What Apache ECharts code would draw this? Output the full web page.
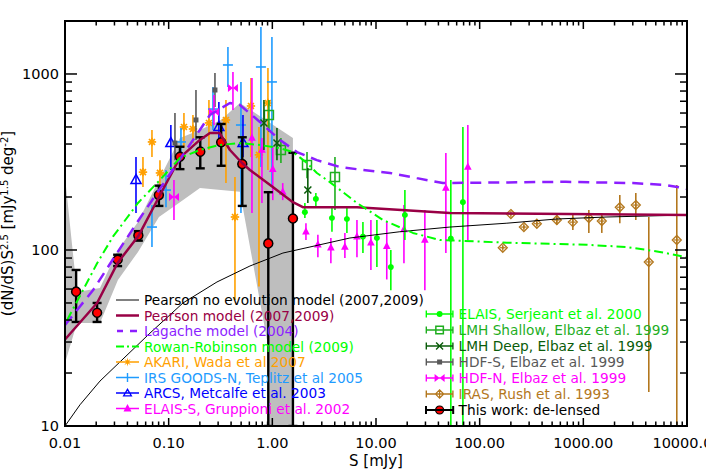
<!DOCTYPE html>
<html><head><meta charset="utf-8">
<script src="https://cdn.jsdelivr.net/npm/echarts@6/dist/echarts.min.js"></script>
<style>html,body{margin:0;padding:0;background:#fff}#wrap{position:relative;width:706px;height:470px}#c{width:706px;height:470px}</style>
</head><body><div id="wrap"><div id="c"></div></div>
<script>
// ---------- axis ticks ----------
const xDecades = [0.01, 0.1, 1, 10, 100, 1000, 10000];
const yDecades = [10, 100, 1000];
const X_MIN = 0.01, X_MAX = 10000, Y_MIN = 10, Y_MAX = 2000;

// ---------- model curves [S mJy, value] ----------
const pearsonNoEvol = [[0.01,10],[0.01395,13.2],[0.02175,18.0],[0.066,33.7],[0.1374,50],[0.2922,65.8],[0.608,81.1],[1.265,96.1],[2.305,104],[5.6,117],[17,127],[51.6,135],[183,142],[555,150],[1690,154],[10000,158]];
const pearsonModel = [[0.01,31],[0.0204,50],[0.0324,85],[0.051,120],[0.0806,200],[0.1285,335],[0.2,422],[0.25,462],[0.31,462],[0.39,370],[0.51,312],[0.608,285],[1.01,228],[1.58,187],[1.97,175],[6.55,175],[51.6,162],[10000,158]];
const lagacheModel = [[0.01,37.5],[0.0186,59],[0.0317,96],[0.053,152],[0.2,481],[0.25,585],[0.39,684],[0.487,666],[0.759,534],[1.184,422],[1.73,360],[2.69,324],[4.49,296],[7.48,285],[13.6,274],[24.8,256],[44.2,240],[678,244],[3000,240],[6240,234],[9100,225],[10000,222]];
const rowanRobinson = [[0.0105,40],[0.0204,84],[0.029,119],[0.0506,185],[0.0824,250],[0.1285,333],[0.2,370],[0.31,395],[0.487,405],[0.76,395],[1.18,379],[1.58,360],[2.16,312],[2.69,274],[3.59,243],[6.55,185],[11.7,148],[22.7,125],[41.3,114],[183,110],[1080,107],[2625,104],[5470,97.5],[10000,91]];

// ---------- uncertainty band of this work [S, value] ----------
const bandUpper = [[0.01,260],[0.01305,57.7],[0.02175,60.8],[0.0324,100],[0.0506,144],[0.0806,250],[0.1285,433],[0.2004,481],[0.319,548],[0.487,684],[1.58,433]];
const bandLower = [[0.01,22.8],[0.01305,38.5],[0.02175,38.5],[0.0324,67.6],[0.0506,97.5],[0.0806,154],[0.1285,187],[0.2004,225],[0.319,219],[0.487,214],[0.907,28.8],[0.907,10],[1.58,10]];

// ---------- data sets [S, value, low, high] ----------
const akari = [[0.0565,277,228,337],[0.069,411,337,481],[0.0824,274,228,324],[0.1404,500,384,600],[0.1715,487,405,585],[0.2446,527,370,711],[0.357,548,240,711],[0.436,154,52,260],[0.622,658,337,948],[0.743,347,62,500],[0.907,684,285,1080]];
const irsGoodsN = [[0.069,135,104,180],[0.0942,219,175,285],[0.1314,411,324,493],[0.2675,632,481,843],[0.373,1125,843,1422],[0.498,513,162,901],[0.776,1096,296,1850],[0.991,901,228,1622]];
const arcs = [[0.0484,250,162,337],[0.105,405,285,513],[0.305,500,405,693],[0.521,405,337,585]];
const elaisS = [[0.636,433,162,948],[0.794,370,185,433],[1.01,288,192,384],[1.26,214,192,240],[2.11,127,114,142],[2.75,107,91,122],[3.67,103,84,117],[5.01,104,90,125],[6.55,119,91,148],[8.93,110,77,148],[12.7,105,68,144],[18.6,131,84,180],[29.6,114,59,169],[47.2,225,96,356],[76.9,296,114,513]];
const elaisSerjeant = [[2.06,164,152,185],[2.63,195,175,211],[3.76,152,127,173],[5.24,150,125,173],[7.48,119,96,144],[10.2,117,80,148],[13.9,80,59,100],[19,158,114,219],[52.7,116,10,250],[68.9,187,10,500]];
const lmhShallow = [[0.927,585,468,711],[1.21,370,312,433],[2.16,304,256,360],[4.02,260,169,337]];
const lmhDeep = [[0.83,527,370,711],[1.108,405,324,493],[2.2,219,185,292]];
const hdfS = [[0.115,405,324,600],[0.1834,548,422,811],[0.2796,811,649,1014]];
const hdfN = [[0.1125,200,148,250],[0.2735,608,513,760],[0.417,832,624,1026]];
const iras = [[167,103,101,105],[200,160,157,163],[267,135,132,138],[356,141,137,145],[555,148,139,158],[792,144,130,158],[1130,152,125,169],[1507,146,125,162],[2248,175,142,205],[3208,180,148,211],[4280,85.5,15.6,154],[7970,114,10,234]];
const thisWork = [[0.0128,58,39,77],[0.0204,44,39,50],[0.0322,88,81,94],[0.051,121,113,128],[0.0805,205,178,232],[0.1285,339,288,386],[0.2018,362,291,437],[0.321,409,301,520],[0.513,308,178,437],[0.914,109,10,213],[1.58,151,10,357]];

// ---------- names ----------
const N = {
  noevol: 'Pearson no evolution model (2007,2009)',
  pearson: 'Pearson model (2007,2009)',
  lagache: 'Lagache model (2004)',
  rr: 'Rowan-Robinson model (2009)',
  akari: 'AKARI, Wada et al 2007',
  irs: 'IRS GOODS-N, Teplitz et al 2005',
  arcs: 'ARCS, Metcalfe et al. 2003',
  elaisS: 'ELAIS-S, Gruppioni et al. 2002',
  elais: 'ELAIS, Serjeant et al. 2000',
  lmhS: 'LMH Shallow, Elbaz et al. 1999',
  lmhD: 'LMH Deep, Elbaz et al. 1999',
  hdfS: 'HDF-S, Elbaz et al. 1999',
  hdfN: 'HDF-N, Elbaz et al. 1999',
  iras: 'IRAS, Rush et al. 1993',
  thisw: 'This work: de-lensed'
};
const C = {
  noevol:'#000000', pearson:'#990045', lagache:'#8c1eff', rr:'#00ff00', akari:'#ffa000', irs:'#1e9bff',
  arcs:'#0000ff', elaisS:'#ff00ff', elais:'#00ff00', lmhS:'#1fae1f', lmhD:'#0a5c0a', hdfS:'#595959',
  hdfN:'#ff00ff', iras:'#b3771d', thisw:'#000000'
};

// ---------- helpers: legend icon paths ----------
function R(x,y,w,h){return 'M'+x+' '+y+'H'+(x+w)+'V'+(y+h)+'H'+x+'Z';}
function P(pts){return 'M'+pts.map(p=>p[0].toFixed(2)+' '+p[1].toFixed(2)).join('L')+'Z';}
function CIRC(cx,cy,r,cw){const s=cw?1:0;return 'M'+(cx-r)+' '+cy+'A'+r+' '+r+' 0 1 '+s+' '+(cx+r)+' '+cy+'A'+r+' '+r+' 0 1 '+s+' '+(cx-r)+' '+cy+'Z';}
function TH(x1,y1,x2,y2,w){const dx=x2-x1,dy=y2-y1,L=Math.hypot(dx,dy),px=-dy/L*w/2,py=dx/L*w/2;
  return P([[x1-px,y1-py],[x2-px,y2-py],[x2+px,y2+py],[x1+px,y1+py]]);}
function icon(kind,W,H,caps){
  const cx=W/2, cy=H/2;
  let d='M0 0M'+W+' '+H;
  if(kind==='thin') return 'path://'+d+R(0,cy-0.5,W,1);
  if(kind==='solid') return 'path://'+d+R(0,cy-1.25,W,2.5);
  if(kind==='dash') return 'path://'+d+R(1,cy-1.25,6,2.5)+R(14,cy-1.25,7,2.5);
  if(kind==='dashdot') return 'path://'+d+R(0,cy-1,8,2)+R(11,cy-1,2,2)+R(16,cy-1,W-16,2);
  const t = kind==='this'?0.8:1.4;
  d+=R(0,cy-t/2,W,t);
  if(caps) d+=R(0,cy-3.5,t,7)+R(W-t,cy-3.5,t,7);
  switch(kind){
    case 'star': {const pts=[];for(let i=0;i<16;i++){const a=-Math.PI/2+i*Math.PI/8,r=i%2?1.7:4.6;pts.push([cx+r*Math.cos(a),cy+r*Math.sin(a)]);}d+=P(pts);break;}
    case 'plus': d+=R(cx-0.7,cy-4.5,1.4,9);break;
    case 'triOpen': d+=P([[cx,cy-5],[cx+5,cy+3.6],[cx-5,cy+3.6]])+P([[cx,cy-2.2],[cx-2.8,cy+2.3],[cx+2.8,cy+2.3]]);break;
    case 'triFill': d+=P([[cx,cy-4.5],[cx+4,cy+3],[cx-4,cy+3]]);break;
    case 'dot': d+=CIRC(cx,cy,3,true);break;
    case 'sqOpen': d+=R(cx-4.5,cy-4.5,9,9)+P([[cx-3,cy-3],[cx-3,cy+3],[cx+3,cy+3],[cx+3,cy-3]]);break;
    case 'cross': d+=TH(cx-3.5,cy-3.5,cx+3.5,cy+3.5,1.4)+TH(cx-3.5,cy+3.5,cx+3.5,cy-3.5,1.4);break;
    case 'sqFill': d+=R(cx-2.5,cy-2.5,5,5);break;
    case 'bowtie': d+=P([[cx-5,cy-4],[cx,cy],[cx-5,cy+4]])+P([[cx+5,cy-4],[cx+5,cy+4],[cx,cy]]);break;
    case 'diamond': d+=P([[cx,cy-5],[cx+5,cy],[cx,cy+5],[cx-5,cy]])+P([[cx,cy-3.3],[cx-3.3,cy],[cx,cy+3.3],[cx+3.3,cy]])+R(cx-0.6,cy-4,1.2,8);break;
    case 'this': d+=CIRC(cx,cy,4,true);break;
  }
  return 'path://'+d;
}

// ---------- helpers: plot markers ----------
function LN(x1,y1,x2,y2,c,w){return {type:'line',shape:{x1,y1,x2,y2},style:{stroke:c,lineWidth:w}};}
function marker(kind,x,y,c){
  const open={stroke:c,lineWidth:1.5,fill:'none'};
  switch(kind){
    case 'star': return [0,1,2,3].map(k=>{const a=k*Math.PI/4,r=4.2;return LN(x-r*Math.cos(a),y-r*Math.sin(a),x+r*Math.cos(a),y+r*Math.sin(a),c,1.7);});
    case 'plus': return [LN(x-5,y,x+5,y,c,1.6)];
    case 'triOpen': return [{type:'polygon',shape:{points:[[x,y-5.5],[x+5,y+3.5],[x-5,y+3.5]]},style:open}];
    case 'triFill': return [{type:'polygon',shape:{points:[[x,y-4.5],[x+3.8,y+2.8],[x-3.8,y+2.8]]},style:{fill:c}}];
    case 'dot': return [{type:'circle',shape:{cx:x,cy:y,r:3},style:{fill:c}}];
    case 'sqOpen': return [{type:'rect',shape:{x:x-4.5,y:y-4.5,width:9,height:9},style:open}];
    case 'cross': return [LN(x-3.5,y-3.5,x+3.5,y+3.5,c,1.5),LN(x-3.5,y+3.5,x+3.5,y-3.5,c,1.5)];
    case 'sqFill': return [{type:'rect',shape:{x:x-2.5,y:y-2.5,width:5,height:5},style:{fill:c}}];
    case 'bowtie': return [{type:'polygon',shape:{points:[[x-5,y-4],[x,y],[x-5,y+4]]},style:{fill:c}},{type:'polygon',shape:{points:[[x+5,y-4],[x+5,y+4],[x,y]]},style:{fill:c}}];
    case 'diamond': return [{type:'polygon',shape:{points:[[x,y-4.5],[x+4.5,y],[x,y+4.5],[x-4.5,y]]},style:{stroke:c,lineWidth:1.3,fill:'none'}},LN(x-3,y,x+3,y,c,1.2),LN(x,y-3,x,y+3,c,1.2)];
    case 'this': return [{type:'circle',shape:{cx:x,cy:y,r:4.5},style:{fill:'#ff0000',stroke:'#000',lineWidth:1.5}}];
  }
  return [];
}
function errSeries(name,data,kind,color){
  return {type:'custom',name,data,clip:true,itemStyle:{color},encode:{x:0,y:1},
    renderItem:(params,api)=>{
      const S=api.value(0),v=api.value(1),lo=api.value(2),hi=api.value(3);
      const p=api.coord([S,v]),pl=api.coord([S,lo]),ph=api.coord([S,hi]);
      const isThis=kind==='this';
      const ec=isThis?'#000':color, ew=isThis?2.4:1.6;
      const ch=[LN(p[0],pl[1],p[0],ph[1],ec,ew)];
      if(isThis){ch.push(LN(p[0]-4.5,pl[1],p[0]+4.5,pl[1],ec,ew),LN(p[0]-4.5,ph[1],p[0]+4.5,ph[1],ec,ew));}
      return {type:'group',children:ch.concat(marker(kind,p[0],p[1],color))};
    }};
}

// ---------- tick values (2..9 per decade) ----------
const xMinor=[], yMinor=[];
xDecades.slice(0,-1).forEach(d=>{for(let k=2;k<=9;k++) xMinor.push(k*d);});
yDecades.forEach(d=>{for(let k=2;k<=9;k++){const v=k*d; if(v<Y_MAX) yMinor.push(v);}});

const FONT='DejaVu Sans';
const leftLegend=[
  {name:N.noevol,k:'thin',c:C.noevol},{name:N.pearson,k:'solid',c:C.pearson},{name:N.lagache,k:'dash',c:C.lagache},
  {name:N.rr,k:'dashdot',c:C.rr},{name:N.akari,k:'star',c:C.akari},{name:N.irs,k:'plus',c:C.irs},
  {name:N.arcs,k:'triOpen',c:C.arcs},{name:N.elaisS,k:'triFill',c:C.elaisS}];
const rightLegend=[
  {name:N.elais,k:'dot',c:C.elais},{name:N.lmhS,k:'sqOpen',c:C.lmhS},{name:N.lmhD,k:'cross',c:C.lmhD},
  {name:N.hdfS,k:'sqFill',c:C.hdfS},{name:N.hdfN,k:'bowtie',c:C.hdfN},{name:N.iras,k:'diamond',c:C.iras},
  {name:N.thisw,k:'this',c:'#000'}];
function legItems(list,W,caps){
  return list.map(o=>({name:o.name,icon:icon(o.k,W,12,caps),
    itemStyle:o.k==='this'?{color:'#ff0000',borderColor:'#000',borderWidth:1.2}:{color:o.c,borderColor:o.c,borderWidth:0},
    textStyle:{color:o.c}}));
}

function xLabel(v){const e=Math.log10(v);return Math.abs(e-Math.round(e))<1e-6?v.toFixed(2):'';}
function yLabel(v){const r=Math.round(v);return yDecades.indexOf(r)>=0?String(r):'';}

const chart=echarts.init(document.getElementById('c'),null,{renderer:'svg',width:706,height:470});
chart.setOption({
  animation:false,
  grid:{left:65,right:19,top:21,bottom:44,outerBoundsMode:'none'},
  xAxis:{type:'log',min:X_MIN,max:X_MAX,position:'bottom',
      axisLine:{show:true,onZero:false,lineStyle:{color:'#000',width:2}},
      axisTick:{show:false},splitLine:{show:false},
      axisLabel:{color:'#000',fontSize:14.5,fontFamily:FONT,margin:9,formatter:xLabel},
      name:'S [mJy]',nameLocation:'middle',nameGap:27,nameMoveOverlap:false,
      nameTextStyle:{color:'#000',fontSize:15,fontFamily:FONT}},
  yAxis:{type:'log',min:Y_MIN,max:Y_MAX,position:'left',
      axisLine:{show:true,onZero:false,lineStyle:{color:'#000',width:2}},
      axisTick:{show:false},splitLine:{show:false},
      axisLabel:{color:'#000',fontSize:14.5,fontFamily:FONT,margin:6,formatter:yLabel},
      name:'(dN/dS)S{s|2.5} [mJy{s|1.5} deg{s|-2}]',nameLocation:'middle',nameGap:48,nameMoveOverlap:false,
      nameTextStyle:{color:'#000',fontSize:15,fontFamily:FONT,lineHeight:18,
        rich:{s:{fontSize:10,lineHeight:10,verticalAlign:'top',fontFamily:FONT,color:'#000'}}}},
  legend:[
    {left:116,top:293,orient:'vertical',padding:0,itemGap:1.5,itemWidth:23,itemHeight:12,selectedMode:false,
      textStyle:{fontSize:13.7,fontFamily:FONT,lineHeight:14},data:legItems(leftLegend,23,false)},
    {left:425,top:307,orient:'vertical',padding:0,itemGap:2,itemWidth:28,itemHeight:12,selectedMode:false,
      textStyle:{fontSize:13.7,fontFamily:FONT,lineHeight:14},data:legItems(rightLegend,28,true)}
  ],
  series:[
    {type:'custom',name:'band',silent:true,clip:true,data:[[1,100]],encode:{x:0,y:1},
      renderItem:(params,api)=>{
        const pts=bandUpper.map(p=>api.coord(p)).concat(bandLower.slice().reverse().map(p=>api.coord(p)));
        return {type:'polygon',shape:{points:pts},style:{fill:'#bebebe'}};
      }},
    {type:'line',name:N.noevol,data:pearsonNoEvol,symbol:'none',lineStyle:{color:C.noevol,width:1},itemStyle:{color:C.noevol}},
    {type:'line',name:N.pearson,data:pearsonModel,symbol:'none',lineStyle:{color:C.pearson,width:2.5},itemStyle:{color:C.pearson}},
    {type:'line',name:N.lagache,data:lagacheModel,symbol:'none',lineStyle:{color:C.lagache,width:2.5,type:[11,7]},itemStyle:{color:C.lagache}},
    {type:'line',name:N.rr,data:rowanRobinson,symbol:'none',lineStyle:{color:C.rr,width:2,type:[9,4,2,4]},itemStyle:{color:C.rr}},
    errSeries(N.akari,akari,'star',C.akari),
    errSeries(N.irs,irsGoodsN,'plus',C.irs),
    errSeries(N.arcs,arcs,'triOpen',C.arcs),
    errSeries(N.elaisS,elaisS,'triFill',C.elaisS),
    errSeries(N.elais,elaisSerjeant,'dot',C.elais),
    errSeries(N.lmhS,lmhShallow,'sqOpen',C.lmhS),
    errSeries(N.lmhD,lmhDeep,'cross',C.lmhD),
    errSeries(N.hdfS,hdfS,'sqFill',C.hdfS),
    errSeries(N.hdfN,hdfN,'bowtie',C.hdfN),
    errSeries(N.iras,iras,'diamond',C.iras),
    errSeries(N.thisw,thisWork,'this','#ff0000')
  ]
});

// Frame and inward ticks: an overlay positioned through the chart's own scales (convertToPixel)
(function(){
  const f={xAxisIndex:0,yAxisIndex:0};
  const tl=chart.convertToPixel(f,[X_MIN,Y_MAX]), br=chart.convertToPixel(f,[X_MAX,Y_MIN]);
  const NS='http://www.w3.org/2000/svg';
  const svg=document.createElementNS(NS,'svg');
  svg.setAttribute('width','706'); svg.setAttribute('height','470');
  svg.style.cssText='position:absolute;left:0;top:0;pointer-events:none;z-index:10;overflow:visible';
  const add=(tag,a)=>{const e=document.createElementNS(NS,tag);Object.keys(a).forEach(k=>e.setAttribute(k,a[k]));svg.appendChild(e);};
  const line=(x1,y1,x2,y2)=>add('line',{x1,y1,x2,y2,stroke:'#000','stroke-width':1.5});
  xDecades.concat(xMinor).forEach(v=>{
    const x=chart.convertToPixel(f,[v,100])[0], len=xDecades.indexOf(v)>=0?8:4.5;
    line(x,br[1],x,br[1]-len); line(x,tl[1],x,tl[1]+len);
  });
  yDecades.concat(yMinor).forEach(v=>{
    const y=chart.convertToPixel(f,[1,v])[1], len=yDecades.indexOf(v)>=0?12:7;
    line(tl[0],y,tl[0]+len,y); line(br[0],y,br[0]-len,y);
  });
  add('rect',{x:tl[0],y:tl[1],width:br[0]-tl[0],height:br[1]-tl[1],fill:'none',stroke:'#000','stroke-width':2});
  document.getElementById('wrap').appendChild(svg);
})();
</script></body></html>
